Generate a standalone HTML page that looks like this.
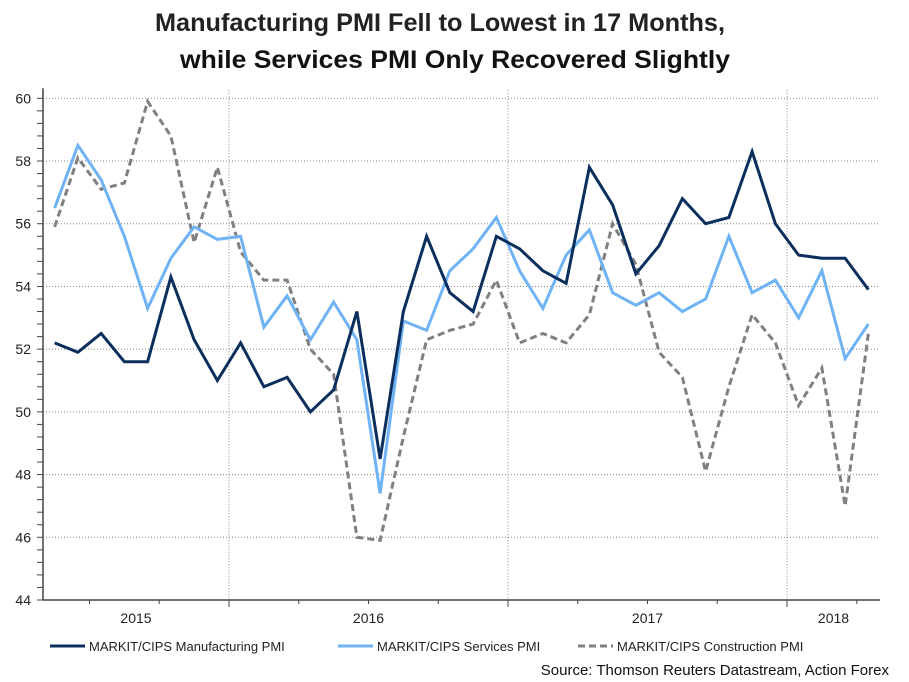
<!DOCTYPE html>
<html><head><meta charset="utf-8"><style>
html,body{margin:0;padding:0;background:#fff}
svg{display:block;font-family:"Liberation Sans",Arial,sans-serif}
</style></head><body>
<svg id="chart" width="909" height="682" viewBox="0 0 909 682">
<text x="155" y="31" font-size="25" font-weight="bold" fill="#222" textLength="570" lengthAdjust="spacingAndGlyphs">Manufacturing PMI Fell to Lowest in 17 Months,</text>
<text x="180" y="68" font-size="25" font-weight="bold" fill="#111" textLength="550" lengthAdjust="spacingAndGlyphs">while Services PMI Only Recovered Slightly</text>
<g id="grid"></g><g id="axes"></g><g id="series"></g>
<g>
<line x1="50" y1="646" x2="85" y2="646" stroke="#0b2f5c" stroke-width="3"/>
<text x="89" y="651" font-size="13" fill="#222">MARKIT/CIPS Manufacturing PMI</text>
<line x1="338" y1="646" x2="373" y2="646" stroke="#6fb3f5" stroke-width="3"/>
<text x="377" y="651" font-size="13" fill="#222">MARKIT/CIPS Services PMI</text>
<line x1="578" y1="646" x2="613" y2="646" stroke="#808080" stroke-width="3" stroke-dasharray="7,4"/>
<text x="617" y="651" font-size="13" fill="#222">MARKIT/CIPS Construction PMI</text>
</g>
<text x="889" y="675" text-anchor="end" font-size="15" fill="#111">Source: Thomson Reuters Datastream, Action Forex</text>
</svg>
<script>
const manufacturing=[52.2,51.9,52.5,51.6,51.6,54.3,52.3,51.0,52.2,50.8,51.1,50.0,50.7,53.2,48.5,53.2,55.6,53.8,53.2,55.6,55.2,54.5,54.1,57.8,56.6,54.4,55.3,56.8,56.0,56.2,58.3,56.0,55.0,54.9,54.9,53.9];
const services=[56.5,58.5,57.4,55.6,53.3,54.9,55.9,55.5,55.6,52.7,53.7,52.3,53.5,52.3,47.4,52.9,52.6,54.5,55.2,56.2,54.5,53.3,55.0,55.8,53.8,53.4,53.8,53.2,53.6,55.6,53.8,54.2,53.0,54.5,51.7,52.8];
const construction=[55.9,58.1,57.1,57.3,59.9,58.8,55.4,57.8,55.1,54.2,54.2,52.0,51.2,46.0,45.9,49.2,52.3,52.6,52.8,54.2,52.2,52.5,52.2,53.1,56.0,54.7,51.9,51.1,48.1,50.8,53.1,52.2,50.2,51.4,47.0,52.5];
const yTicks=[44,46,48,50,52,54,56,58,60];
const yearLabels=["2015","2016","2017","2018"];
const yearStartMonth=[-12,0,12,24]; // months relative to Jan 2016
const NS="http://www.w3.org/2000/svg";
const X0=43,X1=880,Y0=600,Y1=98.3,N=36,YMIN=44,YMAX=60;
const mw=(X1-X0)/N;
function xEdge(m){return X0+m*mw;}
function xPt(i){return X0+(i+0.5)*mw;}
function yS(v){return Y0-(v-YMIN)/(YMAX-YMIN)*(Y0-Y1);}
function mk(tag,attrs,parent){const e=document.createElementNS(NS,tag);for(const k in attrs)e.setAttribute(k,attrs[k]);parent.appendChild(e);return e;}
const grid=document.getElementById('grid'),axes=document.getElementById('axes'),ser=document.getElementById('series');
yTicks.forEach(v=>{
  if(v>YMIN){const l=mk('line',{x1:X0,x2:X1,y1:yS(v),y2:yS(v),stroke:'#888','stroke-width':1,'stroke-dasharray':'1,2'},grid);
  
  }
  const t=mk('text',{x:31,y:yS(v)+5,'text-anchor':'end','font-size':14,fill:'#222'},axes);t.textContent=v;
  
  
});
for(let v=YMIN;v<=YMAX+0.001;v+=0.4){mk('line',{x1:X0-6,x2:X0,y1:yS(v),y2:yS(v),stroke:'#444','stroke-width':1},axes);}
[8,20,32].forEach(m=>{const l=mk('line',{x1:xEdge(m),x2:xEdge(m),y1:Y1-8,y2:Y0,stroke:'#888','stroke-width':1,'stroke-dasharray':'1,2'},grid);
  
  });
const ax=mk('line',{x1:X0,x2:X0,y1:Y1-10,y2:Y0,stroke:'#444','stroke-width':1.5},axes);


const bx=mk('line',{x1:X0,x2:X1,y1:Y0,y2:Y0,stroke:'#444','stroke-width':1.5},axes);


for(let m=2;m<=N;m+=3){const major=(m-8)%12===0;mk('line',{x1:xEdge(m),x2:xEdge(m),y1:Y0,y2:Y0+(major?7:4),stroke:'#444','stroke-width':1},axes);}
yearLabels.forEach((y,i)=>{
  const s=Math.max(0,yearStartMonth[i]+8),e=Math.min(N,yearStartMonth[i]+20);
  const t=mk('text',{x:(xEdge(s)+xEdge(e))/2,y:623,'text-anchor':'middle','font-size':14,fill:'#222'},axes);t.textContent=y;
  
  
});
function line(data,color,dash,name){
  const p=mk('polyline',{points:data.map((v,i)=>xPt(i)+','+yS(v)).join(' '),fill:'none',stroke:color,'stroke-width':3,'stroke-linejoin':'miter'},ser);
  if(dash)p.setAttribute('stroke-dasharray',dash);
  
  
}
line(construction,'#808080','7,4','construction-line');
line(services,'#6fb3f5',null,'services-line');
line(manufacturing,'#0b2f5c',null,'manufacturing-line');
</script>
</body></html>
